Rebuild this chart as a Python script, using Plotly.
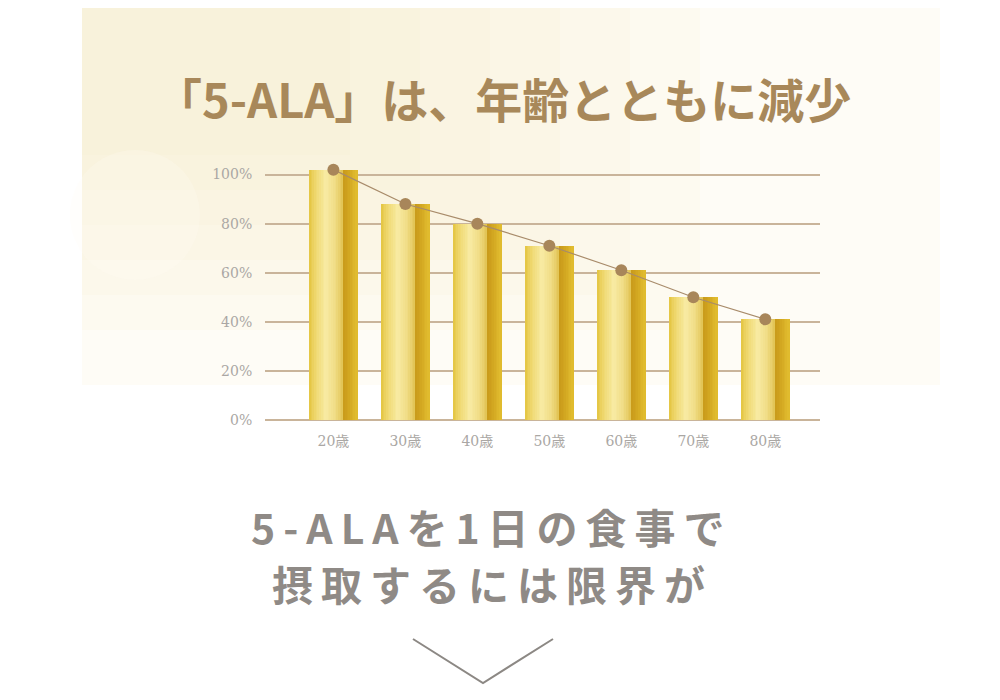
import plotly.graph_objects as go

# data
ages = ['20歳', '30歳', '40歳', '50歳', '60歳', '70歳', '80歳']
levels = [102, 88, 80, 71, 61, 50, 41]
y_ticks = [0, 20, 40, 60, 80, 100]
y_tick_labels = ['0%', '20%', '40%', '60%', '80%', '100%']

title_text = '「5-ALA」は、年齢とともに減少'
sub_lines = ['5-ALAを1日の食事で', '摂取するには限界が']

W, H = 1000, 700
OFF = 8  # page body margin
L, R, T, B = 257, 188, 142, 288

# screen pixel -> paper helpers for the decorations
def px(x):
    return (x - OFF - L) / (W - L - R)

def py(y):
    return (H - B - (y - OFF)) / (H - T - B)

def hex2rgb(h):
    return [int(h[i:i + 2], 16) for i in (1, 3, 5)]

# gold gradient stops across one bar (fraction of bar width, colour)
stops = [(0.0, '#e3c440'), (0.12, '#eed66a'), (0.35, '#f8eba4'), (0.55, '#f0dc84'),
         (0.70, '#e2c456'), (0.715, '#c99a1a'), (0.85, '#d3a822'), (1.0, '#e2be30')]

def grad_color(f):
    for (f0, c0), (f1, c1) in zip(stops[:-1], stops[1:]):
        if f0 <= f <= f1:
            t = 0 if f1 == f0 else (f - f0) / (f1 - f0)
            a, b = hex2rgb(c0), hex2rgb(c1)
            return 'rgb(%d,%d,%d)' % tuple(round(a[k] + (b[k] - a[k]) * t) for k in range(3))
    return stops[-1][1]

n_stripes = 28
bar_w = 0.667
sw = bar_w / n_stripes
x_idx = list(range(len(ages)))

fig = go.Figure()

# bar drawn as thin vertical stripes to fake the gold gradient
for i in range(n_stripes):
    fig.add_trace(go.Bar(x=x_idx, y=levels, width=sw * 1.15, offset=-bar_w / 2 + i * sw,
                         marker=dict(color=grad_color((i + 0.5) / n_stripes), line_width=0),
                         showlegend=False, hoverinfo='skip'))

fig.add_trace(go.Scatter(x=x_idx, y=levels, mode='lines+markers',
                         line=dict(color='#a88b6a', width=1.2),
                         marker=dict(size=12, color='#a8865a'),
                         showlegend=False))

tick_font = dict(family='DejaVu Serif, Noto Sans CJK JP, serif', size=14, color='#aaa7a4')

fig.update_layout(
    width=W, height=H,
    margin=dict(l=L, r=R, t=T, b=B),
    paper_bgcolor='white', plot_bgcolor='rgba(0,0,0,0)',
    barmode='overlay', bargap=0,
    xaxis=dict(range=[-0.95, 6.76], tickvals=x_idx, ticktext=ages, tickfont=tick_font,
               showgrid=False, zeroline=False, showline=False,
               ticks='outside', ticklen=8, tickcolor='rgba(0,0,0,0)', fixedrange=True),
    yaxis=dict(range=[0, 110], tickvals=y_ticks, ticktext=y_tick_labels, tickfont=tick_font,
               showgrid=True, gridcolor='#c9b49a', gridwidth=1.5,
               zeroline=True, zerolinecolor='#c9b49a', zerolinewidth=1.5,
               ticks='outside', ticklen=9, tickcolor='rgba(0,0,0,0)', fixedrange=True),
)

# soft cream background panel, stacked to fade toward the bottom right
shapes = [dict(type='rect', xref='paper', yref='paper', layer='below',
               x0=px(82), x1=px(940), y0=py(385), y1=py(7),
               fillcolor='#fefcf6', line_width=0)]
for k in range(6):
    shapes.append(dict(type='rect', xref='paper', yref='paper', layer='below',
                       x0=px(82), x1=px(700 - 70 * k), y0=py(330 - 35 * k), y1=py(7),
                       fillcolor='rgba(246,234,192,0.09)', line_width=0))
shapes.append(dict(type='circle', xref='paper', yref='paper', layer='below',
                   x0=px(70), x1=px(200), y0=py(280), y1=py(150),
                   fillcolor='rgba(255,253,242,0.25)', line_width=0))
# chevron
shapes.append(dict(type='path', xref='paper', yref='paper',
                   path='M %f,%f L %f,%f L %f,%f' % (px(413), py(639), px(483), py(683), px(553), py(639)),
                   line=dict(color='#8c8884', width=2)))
fig.update_layout(shapes=shapes)

fig.add_annotation(text='<b>' + title_text + '</b>', xref='paper', yref='paper',
                   x=px(503), y=py(97), xanchor='center', yanchor='middle', showarrow=False,
                   font=dict(family='Noto Sans CJK JP', size=47, color='#a8885a'))

for k, line in enumerate(sub_lines):
    fig.add_annotation(text='<b><span style="letter-spacing:8px">' + line + '</span></b>',
                       xref='paper', yref='paper',
                       x=px(492), y=py(526 + 57 * k), xanchor='center', yanchor='middle',
                       showarrow=False,
                       font=dict(family='Noto Sans CJK JP', size=41, color='#8f8a86'))

fig.write_html('out.html')
